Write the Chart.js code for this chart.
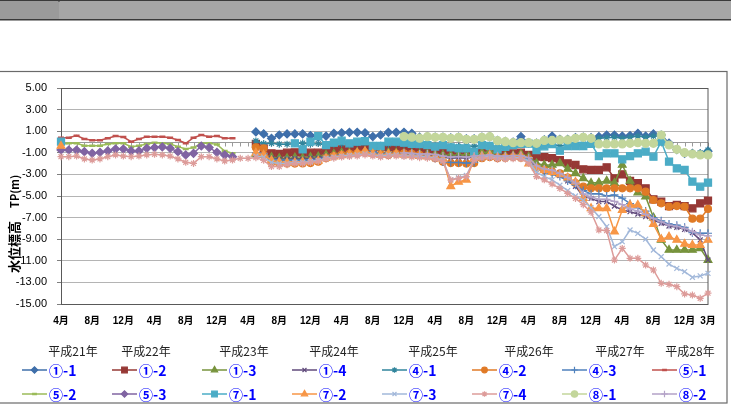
<!DOCTYPE html>
<html>
<head>
<meta charset="utf-8">
<script src="https://cdn.jsdelivr.net/npm/chart.js@4.4.1/dist/chart.umd.min.js"></script>
<style>
html, body { margin: 0; padding: 0; background: #fff; }
#parent { position: relative; width: 731px; height: 406px; }
</style>
</head>
<body>
<div id="parent"><canvas id="myChart"></canvas></div>
<script>
// months: 平成21年4月 .. 平成28年3月
const monthNames = ['4月', '5月', '6月', '7月', '8月', '9月', '10月', '11月', '12月', '1月', '2月', '3月'];
const monthLabels = [];
for (let y = 0; y < 7; y++) monthNames.forEach(m => monthLabels.push(m));

const yearLabels = ['平成21年', '平成22年', '平成23年', '平成24年', '平成25年', '平成26年', '平成27年', '平成28年'];
const yTicks = [5, 3, 1, -1, -3, -5, -7, -9, -11, -13, -15];

// place read values starting at a month index, null elsewhere
function build(pieces) {
    const a = new Array(monthLabels.length).fill(null);
    pieces.forEach(([start, vals]) => vals.forEach((v, i) => { a[start + i] = v; }));
    return a;
}

const w1_1 = build([[25, [
    0.93, 0.75, 0.34, 0.65, 0.75, 0.75, 0.75, 0.60, 0.45, 0.55,
    0.80, 0.85, 0.90, 0.90, 0.85, 0.50, 0.65, 0.90, 0.90, 0.90,
    0.80, 0.45, 0.50, 0.45, 0.45, 0.38, 0.45, 0.30, 0.30, 0.45,
    0.50, 0.15, 0.05, 0.00, 0.50, -0.05, -0.10, 0.20, 0.55, 0.25,
    0.25, 0.40, 0.45, 0.40, 0.50, 0.65, 0.65, 0.55, 0.60, 0.80,
    0.55, 0.75, 0.65, -0.10, -0.70, -1.05, -1.05, -1.10, -0.85]]]);
const w1_2 = build([[25, [
    -0.18, -0.60, -1.05, -1.11, -0.99, -0.96, -0.99, -0.99, -0.99, -0.80,
    -0.68, -0.68, -0.59, -0.59, -0.50, -0.74, -0.43, -0.50, -0.59, -0.68,
    -0.59, -0.80, -0.75, -0.80, -0.90, -0.90, -0.85, -0.90, -0.95, -0.90,
    -1.05, -1.11, -1.20, -1.05, -0.99, -1.20, -1.36, -1.40, -1.50, -1.67,
    -1.98, -2.13, -2.53, -2.59, -2.59, -2.34, -3.36, -3.00, -3.61, -3.82,
    -4.29, -5.31, -5.52, -5.93, -5.83, -5.93, -6.14, -5.68, -5.43]]]);
const w1_3 = build([[25, [
    -1.10, -1.20, -1.40, -1.50, -1.50, -1.45, -1.50, -1.40, -1.35, -1.20,
    -1.10, -1.00, -1.00, -0.95, -0.90, -1.00, -1.00, -0.95, -1.00, -1.05,
    -1.05, -1.10, -1.10, -1.15, -1.20, -1.25, -1.20, -1.20, -1.10, -0.99,
    -0.90, -1.20, -1.25, -1.25, -1.10, -1.36, -1.98, -2.13, -2.13, -1.98,
    -2.50, -2.90, -3.36, -3.80, -3.76, -3.60, -3.80, -2.13, -3.60, -4.70,
    -5.06, -7.00, -9.07, -10.00, -10.00, -10.00, -10.00, -9.85, -10.93]]]);
const w1_4 = build([[25, [
    -1.20, -1.30, -1.50, -1.60, -1.60, -1.55, -1.60, -1.50, -1.50, -1.30,
    -1.20, -1.10, -1.10, -1.00, -0.95, -1.05, -1.10, -1.00, -1.05, -1.10,
    -1.15, -1.20, -1.20, -1.30, -1.40, -1.50, -1.45, -1.50, -1.40, -1.30,
    -1.25, -1.35, -1.30, -1.25, -1.30, -1.50, -2.40, -2.60, -2.70, -3.10,
    -3.60, -4.10, -5.06, -5.22, -5.52, -5.52, -5.93, -6.30, -6.45, -6.67,
    -6.91, -7.22, -7.53, -7.78, -7.90, -8.09, -8.40, -9.07, -10.93]]]);
const w4_1 = build([[25, [
    0.10, -0.15, -0.12, -0.20, -0.20, -0.15, -0.10, -0.20, -0.15, -0.30,
    -0.20, -0.15, -0.20, -0.10, -0.10, -0.30, -0.30, -0.20, -0.15, -0.20,
    -0.30, -0.30, -0.30, -0.35, -0.30, -0.40, -0.40, -0.35, -0.40, -0.30,
    -0.30, -0.45, -0.35, -0.30, -0.20, -0.20, -0.45, -0.30, -0.20, -0.35,
    -0.30, -0.30, -0.20, -0.10, 0.35, 0.40, 0.45, 0.35, 0.45, 0.55,
    0.45, 0.55, 0.60, -0.30, -0.70, -0.95, -1.00, -1.00, -0.75]]]);
const w4_2 = build([[25, [
    -0.50, -0.59, -1.90, -1.98, -2.00, -2.00, -1.98, -1.95, -1.82, -1.50,
    -1.30, -1.20, -1.10, -1.05, -1.00, -1.05, -1.15, -1.20, -1.10, -1.05,
    -1.10, -1.20, -1.30, -1.50, -1.82, -1.95, -1.95, -2.00, -1.95, -1.50,
    -1.40, -1.50, -1.45, -1.40, -1.45, -1.60, -2.40, -2.60, -2.75, -2.90,
    -3.30, -3.80, -4.14, -4.29, -4.29, -4.29, -4.29, -4.29, -4.29, -4.29,
    -4.60, -5.37, -5.68, -5.99, -5.93, -5.99, -7.10, -7.10, -6.20]]]);
const w4_3 = build([[25, [
    -1.00, -1.10, -1.60, -1.67, -1.67, -1.70, -1.70, -1.65, -1.60, -1.40,
    -1.30, -1.20, -1.15, -1.10, -1.00, -0.90, -1.10, -1.05, -1.10, -1.15,
    -1.20, -1.25, -1.30, -1.50, -1.85, -1.90, -1.90, -1.95, -1.90, -1.40,
    -1.30, -1.40, -1.35, -1.30, -1.35, -1.60, -2.50, -2.80, -3.00, -3.20,
    -3.60, -4.00, -4.50, -4.80, -4.80, -5.00, -4.90, -5.20, -5.70, -6.10,
    -6.40, -7.00, -7.30, -7.60, -7.70, -7.90, -8.40, -8.45, -8.45]]]);
const w5_1 = build([[0, [
    0.40, 0.40, 0.59, 0.28, 0.16, 0.16, 0.34, 0.56, 0.46, 0.03,
    0.28, 0.49, 0.49, 0.49, 0.40, 0.19, -0.12, 0.40, 0.65, 0.49,
    0.56, 0.34, 0.34]]]);
const w5_2 = build([[0, [
    -0.22, -0.12, -0.12, -0.34, -0.34, -0.34, -0.19, -0.12, -0.12, -0.43,
    -0.34, -0.19, -0.06, -0.12, -0.19, -0.43, -0.65, -0.52, -0.12, -0.12,
    -0.22, -0.83, -1.05]]]);
const w5_3 = build([[0, [
    -0.74, -0.74, -0.74, -0.90, -1.05, -0.96, -0.83, -0.65, -0.65, -0.83,
    -0.83, -0.59, -0.52, -0.46, -0.59, -0.90, -1.20, -1.05, -0.37, -0.52,
    -0.96, -1.20, -1.36]]]);
const w7_1 = build([[0, [0.03]], [30, [
    -0.12, -0.68, 0.03, 0.55, -0.28,
    -0.06, 0.12, -0.12, 0.03, 0.09, -0.37, -0.37, 0.03, 0.03, -0.06,
    -0.18, -0.20, -0.28, -0.43, -0.28, -0.50, -0.59, -0.59, -0.90, -0.28,
    -0.37, -0.68, -0.45, -0.28, -0.18, -0.15, -0.74, -0.40, -0.20, -0.80,
    -0.37, -0.37, -0.37, -0.18, -1.30, -1.05, -1.05, -1.60, -1.30, -1.05,
    -0.90, -1.36, 0.03, -1.82, -2.44, -2.59, -3.67, -4.14, -3.76]]]);
const w7_2 = build([[0, [-0.37]], [25, [
    -1.00, -1.20, -1.70, -1.85, -1.90, -1.90, -1.85, -1.80, -1.75, -1.50,
    -1.35, -1.25, -1.15, -1.00, -0.85, -1.10, -1.20, -1.10, -1.10, -1.20,
    -1.25, -1.30, -1.35, -1.40, -1.60, -4.10, -3.70, -3.50, -1.50, -1.30,
    -1.20, -1.40, -1.40, -1.35, -1.30, -2.00, -2.40, -2.60, -2.80, -3.00,
    -3.30, -3.70, -5.20, -6.14, -6.14, -6.14, -8.30, -6.30, -5.83, -5.83,
    -6.60, -7.60, -9.00, -8.77, -9.07, -9.44, -9.54, -9.54, -9.07]]]);
const w7_3 = build([[25, [
    -1.30, -1.40, -1.90, -2.00, -2.00, -1.90, -1.90, -1.80, -1.70, -1.50,
    -1.40, -1.30, -1.25, -1.20, -1.10, -1.20, -1.30, -1.20, -1.20, -1.30,
    -1.30, -1.35, -1.40, -1.50, -1.70, -3.50, -3.30, -3.10, -1.60, -1.40,
    -1.35, -1.50, -1.50, -1.45, -1.45, -1.80, -2.80, -3.20, -3.50, -4.00,
    -4.50, -5.00, -5.40, -6.10, -6.90, -7.84, -9.69, -9.23, -8.15, -8.46,
    -9.00, -10.00, -10.62, -11.30, -11.70, -12.00, -12.53, -12.40, -12.16]]]);
const w7_4 = build([[0, [
    -1.36, -1.36, -1.30, -1.57, -1.67, -1.57, -1.36, -1.20, -1.30, -1.36,
    -1.30, -1.20, -1.14, -1.20, -1.30, -1.57, -1.88, -1.98, -1.36, -1.36,
    -1.57, -1.76, -1.67, -1.51, -1.51,
    -1.45, -1.70, -2.28, -2.28, -2.10, -2.00, -2.00, -1.90, -1.80, -1.60,
    -1.50, -1.40, -1.35, -1.30, -1.20, -1.30, -1.40, -1.35, -1.30, -1.35,
    -1.40, -1.45, -1.50, -1.60, -1.80, -3.52, -3.36, -3.21, -1.70, -1.50,
    -1.45, -1.60, -1.60, -1.55, -1.55, -1.98, -3.20, -3.50, -3.90, -4.30,
    -4.76, -5.22, -5.80, -6.50, -8.15, -8.20, -10.93, -9.85, -10.77, -10.77,
    -11.39, -11.85, -13.09, -13.18, -13.40, -14.07, -14.17, -14.47, -14.00]]]);
const w8_1 = build([[44, [
    0.50, 0.45, 0.35, 0.49, 0.43, 0.43, 0.34, 0.43, 0.25, 0.25,
    0.43, 0.49, 0.12, 0.03, -0.06, -0.06, -0.06, -0.12, 0.15, 0.15,
    0.19, 0.19, 0.34, 0.43, 0.34, -0.18, -0.18, -0.18, -0.18, -0.12,
    -0.06, -0.12, -0.12, 0.65, -0.28, -0.68, -0.99, -1.11, -1.20, -1.20]]]);
const w8_2 = build([[44, [
    -1.00, -1.05, -1.10, -1.10, -1.15, -1.30, -1.40, -1.35, -1.40, -1.30,
    -1.25, -1.20, -1.30, -1.30, -1.25, -1.25, -1.45, -2.20, -2.50, -2.60,
    -2.90, -3.30, -3.80, -4.80, -5.10, -5.30, -5.30, -5.50, -5.80, -6.20,
    -6.40, -6.70, -7.10, -7.40, -7.70, -7.80, -8.00, -8.30, -8.60, -8.70]]]);

const wellNames = ['①-1', '①-2', '①-3', '①-4', '④-1', '④-2', '④-3', '⑤-1',
                   '⑤-2', '⑤-3', '⑦-1', '⑦-2', '⑦-3', '⑦-4', '⑧-1', '⑧-2'];
const wellValues = [w1_1, w1_2, w1_3, w1_4, w4_1, w4_2, w4_3, w5_1,
                    w5_2, w5_3, w7_1, w7_2, w7_3, w7_4, w8_1, w8_2];

// look of each series
const wellColors = ['#3f6faa', '#963835', '#77933c', '#604a7b', '#31859c', '#e07a26', '#4f81bd', '#c0504d',
                    '#9bbb59', '#8064a2', '#4bacc6', '#f79646', '#a2b8da', '#dd9c9a', '#c3d69b', '#b3a2c7'];
const wellMarkers = ['rectRot', 'rect', 'triangle', 'crossRot', 'star', 'circle', 'cross', 'line',
                     'line', 'rectRot', 'rect', 'triangle', 'crossRot', 'star', 'circle', 'cross'];
const wellMarkerSize = [4, 5, 4.5, 3.5, 3.5, 3.5, 4, 3, 3, 4, 5, 4.5, 3.5, 3.5, 4, 4];

const yearLabelX = [73, 146, 244, 334, 433, 529, 620, 690];
const jpFont = '"Noto Sans CJK JP", "Liberation Sans", sans-serif';
const numFont = '"Liberation Sans", "Noto Sans CJK JP", sans-serif';

function markerOpts(k) {
    const line = wellMarkers[k] === 'line';
    return { pointStyle: wellMarkers[k], radius: wellMarkerSize[k], borderWidth: line ? 2.5 : 1.2, rotation: 0 };
}

const datasets = wellNames.map((name, k) => ({
    label: name,
    data: wellValues[k],
    borderColor: wellColors[k],
    backgroundColor: wellColors[k],
    borderWidth: 1.5,
    pointStyle: wellMarkers[k],
    pointRadius: wellMarkerSize[k],
    pointHoverRadius: wellMarkerSize[k],
    pointBorderWidth: markerOpts(k).borderWidth,
    pointBackgroundColor: wellColors[k],
    pointBorderColor: wellColors[k],
    tension: 0,
    fill: false,
    spanGaps: false,
    order: wellNames.length - k   // later series drawn on top
}));

const decorPlugin = {
    id: 'decor',
    beforeDraw(chart) {
        const ctx = chart.ctx;
        const w = chart.width;
        ctx.save();
        ctx.fillStyle = '#a6a6a6';
        ctx.fillRect(0, 0, w, 20);
        ctx.fillStyle = '#9b9b9b';
        ctx.fillRect(0, 0, 59, 20);
        ctx.fillStyle = '#3a3a3a';
        ctx.fillRect(0, 0, w, 1);
        ctx.fillRect(0, 19, w, 1.5);
        ctx.fillRect(58.5, 0, 1, 2);
        ctx.strokeStyle = '#6a6a6a';
        ctx.lineWidth = 1.2;
        ctx.strokeRect(-2, 71.5, 729, 331.5);
        ctx.restore();
    },
    beforeDatasetsDraw(chart) {
        const { ctx, chartArea: a, scales: { x, y } } = chart;
        ctx.save();
        // category axis crossing at 0 with monthly tick marks
        const y0 = Math.round(y.getPixelForValue(0)) + 0.5;
        ctx.strokeStyle = '#9a9a9a';
        ctx.lineWidth = 1;
        ctx.beginPath();
        ctx.moveTo(a.left, y0);
        ctx.lineTo(a.right, y0);
        for (let i = 0; i < monthLabels.length; i++) {
            const px = Math.round(x.getPixelForValue(i)) + 0.5;
            ctx.moveTo(px, y0);
            ctx.lineTo(px, y0 + 4);
        }
        ctx.stroke();
        // plot border
        ctx.strokeStyle = '#595959';
        ctx.strokeRect(a.left + 0.5, a.top + 0.5, a.right - a.left - 0.5, a.bottom - a.top);
        ctx.restore();
    },
    afterDraw(chart) {
        const { ctx, chartArea: a, scales: { x } } = chart;

        // month labels, low position below the plot, every 4 months plus the last
        ctx.save();
        ctx.font = 'bold 10px ' + numFont;
        ctx.fillStyle = '#000';
        ctx.textAlign = 'center';
        ctx.textBaseline = 'middle';
        monthLabels.forEach((m, i) => {
            if (i % 4 === 0 || i === monthLabels.length - 1) ctx.fillText(m, x.getPixelForValue(i), a.bottom + 17);
        });
        ctx.restore();

        // y axis title
        ctx.save();
        ctx.translate(19, 273);
        ctx.rotate(-Math.PI / 2);
        ctx.fillStyle = '#000';
        ctx.textBaseline = 'alphabetic';
        ctx.textAlign = 'left';
        ctx.font = 'bold 13px ' + jpFont;
        const t1 = '水位標高　';
        ctx.fillText(t1, 0, 0);
        const w1 = ctx.measureText(t1).width;
        ctx.font = 'bold 11px ' + jpFont;
        ctx.fillText('TP(m)', w1, 0);
        ctx.restore();

        // year labels under the month labels
        ctx.save();
        ctx.font = '12px ' + jpFont;
        ctx.fillStyle = '#222';
        ctx.textAlign = 'center';
        ctx.textBaseline = 'middle';
        yearLabels.forEach((t, i) => ctx.fillText(t, yearLabelX[i], 351));
        ctx.restore();

        // legend: 2 rows x 8 columns, line + marker + label
        ctx.save();
        wellNames.forEach((name, k) => {
            const col = k % 8;
            const row = Math.floor(k / 8);
            const xs = 22 + col * 90;
            const yc = row === 0 ? 370 : 394;
            ctx.strokeStyle = wellColors[k];
            ctx.fillStyle = wellColors[k];
            ctx.lineWidth = 1.5;
            ctx.beginPath();
            ctx.moveTo(xs, yc);
            ctx.lineTo(xs + 25, yc);
            ctx.stroke();
            const mo = markerOpts(k);
            ctx.lineWidth = mo.borderWidth;
            Chart.helpers.drawPoint(ctx, { pointStyle: mo.pointStyle, radius: mo.radius * 0.8, borderWidth: mo.borderWidth, rotation: 0 }, xs + 12.5, yc);
            ctx.fillStyle = '#0000ff';
            ctx.font = 'bold 14px ' + jpFont;
            ctx.textAlign = 'left';
            ctx.textBaseline = 'middle';
            ctx.fillText(name, xs + 27, yc + 1);
        });
        ctx.restore();
    }
};

window.onload = function () {
    const ctx = document.getElementById('myChart').getContext('2d');
    new Chart(ctx, {
        type: 'line',
        data: { labels: monthLabels, datasets: datasets },
        options: {
            responsive: true,
            maintainAspectRatio: false,
            animation: false,
            events: [],
            layout: { padding: { left: 0, right: 23, top: 88, bottom: 72 } },
            plugins: { legend: { display: false }, tooltip: { enabled: false } },
            scales: {
                x: {
                    type: 'category',
                    offset: false,
                    grid: { display: false },
                    border: { display: false },
                    afterFit: s => { s.height = 30; },
                    ticks: { display: false }
                },
                y: {
                    min: yTicks[yTicks.length - 1],
                    max: yTicks[0],
                    afterFit: s => { s.width = 61; },
                    afterBuildTicks: s => { s.ticks = yTicks.map(v => ({ value: v })); },
                    grid: { color: '#b4b4b4', lineWidth: 1, tickColor: '#7f7f7f', tickLength: 4 },
                    border: { display: true, color: '#7f7f7f' },
                    ticks: {
                        padding: 10,
                        color: '#000',
                        font: { family: numFont, size: 11 },
                        callback: v => v.toFixed(2)
                    }
                }
            }
        },
        plugins: [decorPlugin]
    });
};
</script>
</body>
</html>
